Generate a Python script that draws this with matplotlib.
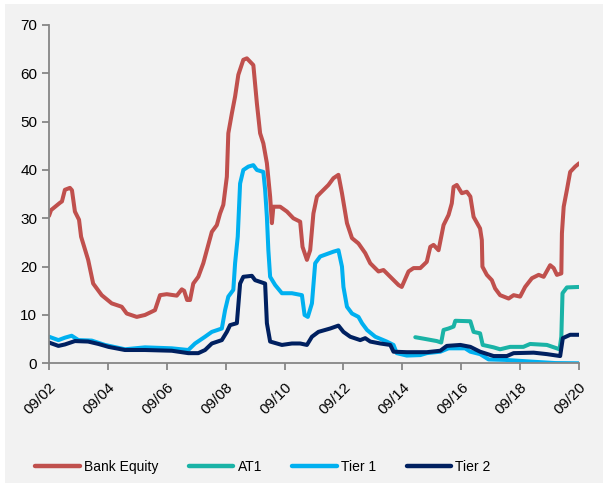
import matplotlib
matplotlib.use("Agg")
import matplotlib.pyplot as plt
from matplotlib.patches import Rectangle

plt.rcParams["font.family"] = ["Liberation Sans", "DejaVu Sans"]

# Time axis in decimal years (September 2002 = 2002.67)
equity_t = [2002.67, 2002.74, 2003.04, 2003.11, 2003.21, 2003.38, 2003.45, 2003.55, 2003.69, 2003.76,
            2004.00, 2004.17, 2004.46, 2004.80, 2005.14, 2005.31, 2005.65, 2005.93, 2006.27, 2006.44,
            2006.67, 2007.01, 2007.18, 2007.26, 2007.36, 2007.46, 2007.57, 2007.74, 2007.91, 2008.03,
            2008.20, 2008.37, 2008.48, 2008.59, 2008.71, 2008.76, 2008.88, 2008.99, 2009.10, 2009.27,
            2009.39, 2009.61, 2009.73, 2009.84, 2009.95, 2010.07, 2010.18, 2010.24, 2010.29, 2010.52,
            2010.75, 2010.97, 2011.20, 2011.28, 2011.43, 2011.54, 2011.65, 2011.77, 2011.88, 2012.16,
            2012.33, 2012.50, 2012.62, 2012.79, 2012.96, 2013.18, 2013.41, 2013.58, 2013.86, 2014.03,
            2014.31, 2014.54, 2014.65, 2014.88, 2015.05, 2015.28, 2015.50, 2015.62, 2015.73, 2015.90,
            2016.07, 2016.24, 2016.35, 2016.41, 2016.52, 2016.69, 2016.86, 2016.98, 2017.09, 2017.31,
            2017.37, 2017.39, 2017.54, 2017.71, 2017.82, 2017.99, 2018.28, 2018.45, 2018.67, 2018.84,
            2019.07, 2019.30, 2019.47, 2019.69, 2019.81, 2019.92, 2020.07, 2020.09, 2020.15, 2020.26,
            2020.37, 2020.54, 2020.68]
equity_v = [30.5, 31.7, 33.2, 33.5, 35.9, 36.3, 35.8, 31.4, 29.7, 26.2,
            21.4, 16.5, 14.1, 12.4, 11.7, 10.3, 9.6, 10.0, 11.0, 14.1,
            14.3, 14.0, 15.3, 15.0, 13.1, 13.1, 16.5, 17.9, 20.7, 23.4,
            27.2, 28.6, 31.0, 32.8, 38.6, 47.6, 51.7, 55.2, 59.7, 62.8,
            63.1, 61.7, 53.8, 47.6, 45.5, 41.4, 34.5, 29.0, 32.4, 32.4,
            31.4, 30.0, 29.3, 24.1, 21.4, 23.4, 31.0, 34.5, 35.2, 36.9,
            38.3, 39.0, 35.2, 29.0, 25.9, 24.8, 22.8, 20.7, 19.0, 19.3,
            17.6, 16.2, 15.8, 19.0, 19.7, 19.7, 21.0, 24.1, 24.5, 23.4,
            28.6, 30.7, 33.1, 36.5, 36.9, 35.2, 35.5, 34.5, 30.3, 27.9,
            25.5, 20.0, 18.3, 17.2, 15.5, 14.1, 13.4, 14.1, 13.8, 15.8,
            17.6, 18.3, 17.9, 20.3, 19.7, 18.3, 18.6, 26.9, 32.4, 35.9,
            39.6, 40.7, 41.4]

at1_t = [2015.11, 2015.39, 2015.84, 2015.99, 2016.07, 2016.24, 2016.41, 2016.47, 2016.98, 2017.09,
         2017.31, 2017.40, 2017.77, 2017.99, 2018.33, 2018.78, 2019.01, 2019.58, 2020.01, 2020.07,
         2020.11, 2020.26, 2020.68]
at1_v = [5.4, 5.1, 4.6, 4.3, 6.9, 7.2, 7.6, 8.8, 8.7, 6.5,
         6.2, 3.8, 3.3, 2.9, 3.4, 3.4, 4.0, 3.8, 2.9, 5.5,
         14.5, 15.7, 15.8]

tier1_t = [2002.67, 2002.99, 2003.21, 2003.44, 2003.67, 2004.12, 2004.57, 2005.25, 2005.93, 2006.84,
           2007.40, 2007.63, 2007.97, 2008.20, 2008.54, 2008.65, 2008.76, 2008.93, 2008.99, 2009.08,
           2009.16, 2009.27, 2009.44, 2009.61, 2009.73, 2009.95, 2010.01, 2010.07, 2010.12, 2010.18,
           2010.35, 2010.58, 2010.92, 2011.26, 2011.35, 2011.46, 2011.60, 2011.71, 2011.88, 2012.33,
           2012.50, 2012.62, 2012.67, 2012.79, 2012.96, 2013.18, 2013.30, 2013.47, 2013.75, 2014.14,
           2014.37, 2014.48, 2014.82, 2015.28, 2015.50, 2015.96, 2016.24, 2016.52, 2016.80, 2016.98,
           2017.31, 2017.60, 2018.17, 2019.18, 2019.86, 2020.68]
tier1_v = [5.5, 4.8, 5.3, 5.7, 4.8, 4.7, 3.8, 2.9, 3.3, 3.1,
           2.75, 4.1, 5.5, 6.5, 7.2, 11.0, 13.8, 15.2, 20.7, 26.2,
           37.2, 40.0, 40.7, 41.0, 40.0, 39.6, 35.9, 30.3, 23.4, 17.9,
           16.2, 14.5, 14.5, 14.1, 10.0, 9.6, 12.4, 20.7, 22.1, 23.1,
           23.4, 20.0, 15.8, 11.7, 10.3, 9.6, 8.3, 6.9, 5.5, 4.5,
           3.8, 2.1, 1.6, 1.7, 2.1, 2.4, 3.1, 3.1, 3.1, 2.4,
           1.9, 0.8, 0.7, 0.3, 0.05, 0.0]

tier2_t = [2002.67, 2002.99, 2003.21, 2003.55, 2004.00, 2004.35, 2004.69, 2005.25, 2005.93, 2006.84,
           2007.40, 2007.74, 2007.97, 2008.20, 2008.54, 2008.71, 2008.82, 2009.05, 2009.16, 2009.27,
           2009.56, 2009.67, 2010.01, 2010.07, 2010.18, 2010.58, 2010.92, 2011.20, 2011.43, 2011.60,
           2011.82, 2012.22, 2012.50, 2012.67, 2012.90, 2013.24, 2013.41, 2013.58, 2013.92, 2014.26,
           2014.37, 2014.82, 2015.50, 2015.96, 2016.18, 2016.64, 2016.98, 2017.31, 2017.77, 2018.22,
           2018.45, 2019.13, 2019.58, 2020.03, 2020.12, 2020.37, 2020.68]
tier2_v = [4.3, 3.6, 3.9, 4.6, 4.5, 4.0, 3.4, 2.75, 2.75, 2.6,
           2.1, 2.1, 2.75, 4.1, 4.8, 6.5, 7.9, 8.3, 16.5, 17.9,
           18.1, 17.2, 16.5, 8.3, 4.5, 3.8, 4.1, 4.1, 3.8, 5.5,
           6.5, 7.2, 7.8, 6.5, 5.5, 4.8, 5.2, 4.5, 4.1, 3.8,
           2.4, 2.3, 2.3, 2.6, 3.6, 3.8, 3.4, 2.4, 1.5, 1.5,
           2.1, 2.2, 1.9, 1.5, 5.2, 5.9, 5.9]

tick_years = [2002.67, 2004.67, 2006.67, 2008.67, 2010.67, 2012.67, 2014.67, 2016.67, 2018.67, 2020.67]
tick_labels = ["09/02", "09/04", "09/06", "09/08", "09/10", "09/12", "09/14", "09/16", "09/18", "09/20"]
y_ticks = [0, 10, 20, 30, 40, 50, 60, 70]

series = [
    ("Bank Equity", equity_t, equity_v, "#C0504D"),
    ("AT1", at1_t, at1_v, "#1AB3A6"),
    ("Tier 1", tier1_t, tier1_v, "#00B0F0"),
    ("Tier 2", tier2_t, tier2_v, "#002060"),
]

fig = plt.figure(figsize=(6.03, 4.83), dpi=100, facecolor="white")
# light grey chart area, leaving a thin white strip along the top and left edges
fig.patches.append(Rectangle((5 / 603, 0), 1, 1 - 4 / 483, transform=fig.transFigure,
                             facecolor="#F2F2F2", edgecolor="none", zorder=-10))

ax = fig.add_axes([49 / 603, 1 - 363.3 / 483, 530 / 603, (363.3 - 25) / 483])
ax.set_facecolor("none")

for name, t, v, c in series:
    ax.plot(t, v, color=c, lw=2.9, label=name, solid_joinstyle="round", solid_capstyle="round")

ax.set_xlim(tick_years[0], tick_years[-1])
ax.set_ylim(0, 70)
ax.set_yticks(y_ticks)
ax.set_xticks(tick_years)
ax.set_xticklabels(tick_labels, rotation=45, ha="right", va="top", rotation_mode="anchor")

for side in ("top", "right"):
    ax.spines[side].set_visible(False)
for side in ("left", "bottom"):
    ax.spines[side].set_color("#868686")
    ax.spines[side].set_linewidth(1.3)
ax.tick_params(axis="both", colors="#868686", labelcolor="#000000", labelsize=11,
               length=5, width=1.3, direction="out")
ax.tick_params(axis="x", pad=7)

leg = fig.legend(loc="center", bbox_to_anchor=(263 / 603, 1 - 467 / 483), ncol=4, frameon=False,
                 fontsize=10, handlelength=3.2, handletextpad=0.3, columnspacing=2.2)
for line in leg.get_lines():
    line.set_linewidth(3.2)

fig.savefig("out.png", dpi=100, facecolor=fig.get_facecolor())
